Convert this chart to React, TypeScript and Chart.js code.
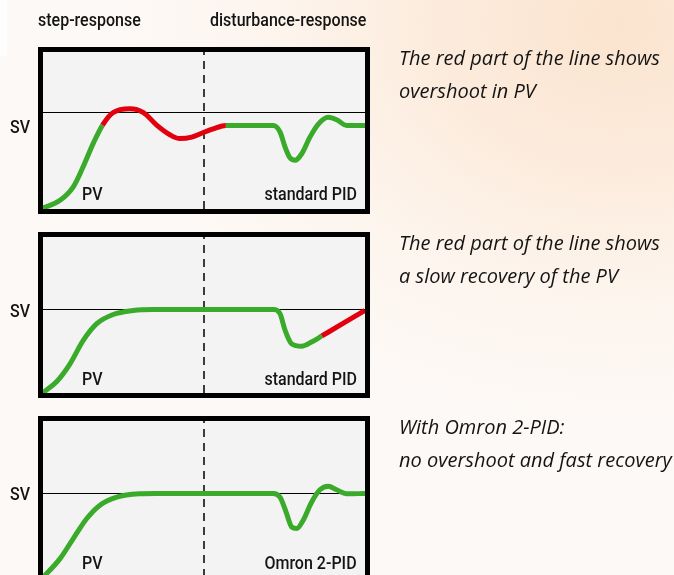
import React, { useEffect, useRef } from "react";
import { Chart, registerables } from "chart.js";

Chart.register(...registerables);

// ---- data (x: time 0..100, y: PV where SV = 100) ----
const stdStepX = [0, 5.3, 9.4, 12.5, 15.6, 18.5, 21.8, 27, 31.2, 35.3, 39.4, 42.5, 46.2, 49.6, 52.9, 56.8, 71.5, 73.6, 75.2, 76.7, 78.3, 80.3, 82.9, 85.5, 88.6, 91.2, 94.3, 100];
const stdStepY = [1, 9, 23, 44, 68, 87, 100, 104, 100, 87, 77, 73, 74.5, 79, 83, 86.6, 86.6, 80, 64, 53, 50.5, 57, 74.5, 88, 95, 92.5, 86.6, 86.6];
const stdStepRed = [18.5, 56.8];

const stdDistX = [0, 4.2, 8.4, 12.5, 16.7, 21.8, 28, 34.3, 71.5, 73.6, 75.2, 77.2, 80.3, 83.4, 86.6, 93.3, 100];
const stdDistY = [0.4, 13.5, 35, 63, 83, 94, 98.8, 100, 100, 95, 75, 59, 56, 61, 68.3, 83.6, 99];
const stdDistRed = [86.6, 100];

const omronX = [0, 1.1, 5.3, 9.4, 13.6, 17.7, 22.9, 30.1, 35, 71.5, 73.6, 75.5, 77.2, 78.8, 80.8, 83.4, 86, 88.6, 91.2, 94.3, 100];
const omronY = [0, 4, 22, 46, 70, 86, 95.6, 99.6, 100, 100, 95.6, 77.7, 60, 58, 68, 89.6, 104.4, 108.7, 104.4, 99.6, 100];

const SV_LEVEL = 100;
const DIVIDER_X = 50;

const headerLabels = ["step-response", "disturbance-response"];
const panelNames = ["standard PID", "standard PID", "Omron 2-PID"];
const notes = [
  ["The red part of the line shows", "overshoot in PV"],
  ["The red part of the line shows", "a slow recovery of the PV"],
  ["With Omron 2-PID:", "no overshoot and fast recovery"],
];

const GREEN = "#3aaa2b";
const RED = "#e2000f";

type PanelProps = {
  xs: number[];
  ys: number[];
  red: number[] | null;
  ymax: number;
  left: number;
  top: number;
  w: number;
  h: number;
};

function Panel({ xs, ys, red, ymax, left, top, w, h }: PanelProps) {
  const ref = useRef<HTMLCanvasElement>(null);
  useEffect(() => {
    const canvas = ref.current!;
    const chart = new Chart(canvas, {
      type: "line",
      data: {
        datasets: [
          {
            data: xs.map((x, i) => ({ x, y: ys[i] })),
            borderColor: GREEN,
            borderWidth: 5,
            pointRadius: 0,
            cubicInterpolationMode: "monotone",
            borderCapStyle: "butt",
            order: 0,
            segment: {
              borderColor: (ctx: any) => {
                const a = ctx.p0.parsed.x;
                const b = ctx.p1.parsed.x;
                return red && a >= red[0] - 1e-9 && b <= red[1] + 1e-9 ? RED : GREEN;
              },
            },
          } as any,
          {
            data: [
              { x: 0, y: SV_LEVEL },
              { x: 100, y: SV_LEVEL },
            ],
            borderColor: "#000",
            borderWidth: 1,
            pointRadius: 0,
            order: 1,
          },
          {
            data: [
              { x: DIVIDER_X, y: 0 },
              { x: DIVIDER_X, y: ymax },
            ],
            borderColor: "#000",
            borderWidth: 1.5,
            borderDash: [8, 6],
            pointRadius: 0,
            order: 2,
          },
        ],
      },
      options: {
        animation: false,
        responsive: false,
        devicePixelRatio: 1,
        layout: { padding: 0 },
        plugins: { legend: { display: false }, tooltip: { enabled: false } },
        scales: {
          x: { type: "linear", min: 0, max: 100, display: false },
          y: { type: "linear", min: 0, max: ymax, display: false },
        },
      },
    });
    return () => chart.destroy();
  }, []);
  return (
    <div
      style={{
        position: "absolute",
        left,
        top,
        width: w,
        height: h,
        border: "5px solid #000",
        background: "#f3f3f3",
      }}
    >
      <canvas ref={ref} width={w} height={h} style={{ display: "block", width: w, height: h }} />
    </div>
  );
}

function Txt({
  text,
  x,
  base,
  size,
  family,
  weight = 400,
  italic = false,
  right = false,
  ascent = 0.84,
  sx = 1,
}: {
  text: string;
  x: number;
  base: number;
  size: number;
  family: string;
  weight?: number;
  italic?: boolean;
  right?: boolean;
  ascent?: number;
  sx?: number;
}) {
  const style: React.CSSProperties = {
    position: "absolute",
    top: base - ascent * size,
    fontSize: size,
    lineHeight: `${size}px`,
    fontFamily: family,
    fontWeight: weight,
    fontStyle: italic ? "italic" : "normal",
    whiteSpace: "nowrap",
    color: "#141414",
    transform: sx !== 1 ? `scaleX(${sx})` : undefined,
    transformOrigin: right ? "right center" : "left center",
  };
  if (right) style.right = 674 - x;
  else style.left = x;
  return <div style={style}>{text}</div>;
}

const LBL = "Roboto, sans-serif";
const NOTE = "'Open Sans', sans-serif";
const LS = 18;
const LSX = 0.89;

export default function App() {
  const panelTops = [47, 232, 416];
  const svBase = [133, 317, 500];
  const pvBase = [200, 385, 569];
  const noteBase = [66, 251, 435];
  return (
    <div
      style={{
        position: "fixed",
        left: 0,
        top: 0,
        width: 674,
        height: 575,
        overflow: "hidden",
        background:
          "radial-gradient(ellipse 75% 70% at 92% 4%, #fbe4cf 0%, #fcebdc 35%, #fdf5ee 70%, #fdf9f6 100%)",
      }}
    >
      <div style={{ position: "absolute", left: 0, top: 0, width: 7, height: 56, background: "#fefefe" }} />
      <Txt text={headerLabels[0]} x={38} base={26} size={LS} family={LBL} weight={500} sx={LSX} />
      <Txt text={headerLabels[1]} x={210} base={26} size={LS} family={LBL} weight={500} sx={LSX} />
      <Panel xs={stdStepX} ys={stdStepY} red={stdStepRed} ymax={162.7} left={38} top={panelTops[0]} w={322} h={157} />
      <Panel xs={stdDistX} ys={stdDistY} red={stdDistRed} ymax={186.8} left={38} top={panelTops[1]} w={322} h={156} />
      <Panel xs={omronX} ys={omronY} red={null} ymax={186.8} left={38} top={panelTops[2]} w={322} h={156} />
      {[0, 1, 2].map((i) => (
        <React.Fragment key={i}>
          <Txt text="SV" x={10} base={svBase[i]} size={LS} family={LBL} weight={500} sx={LSX} />
          <Txt text="PV" x={82} base={pvBase[i]} size={LS} family={LBL} weight={500} sx={LSX} />
          <Txt text={panelNames[i]} x={357} base={pvBase[i]} size={LS} family={LBL} weight={500} right sx={LSX} />
          <Txt text={notes[i][0]} x={399} base={noteBase[i]} size={20} family={NOTE} italic ascent={0.89} />
          <Txt text={notes[i][1]} x={399} base={noteBase[i] + 33} size={20} family={NOTE} italic ascent={0.89} />
        </React.Fragment>
      ))}
    </div>
  );
}
